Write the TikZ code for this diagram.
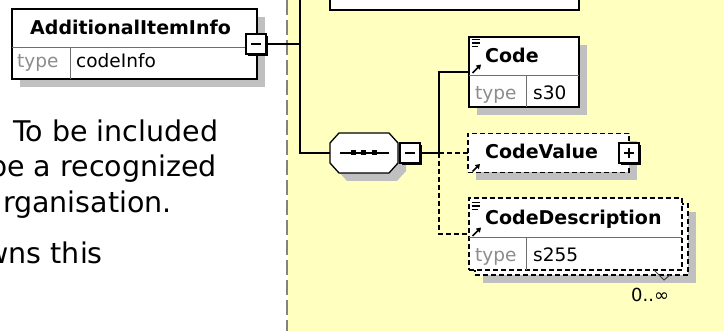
\documentclass[tikz,border=0pt]{standalone}
\usepackage{fontspec}
\setmainfont{DejaVu Sans}
\usetikzlibrary{arrows.meta,calc}
\definecolor{ylw}{RGB}{255,255,192}
\definecolor{shd}{RGB}{192,192,192}
\definecolor{typegray}{RGB}{140,140,140}
\definecolor{sepgray}{RGB}{130,130,130}
\definecolor{divgray}{RGB}{110,110,110}
\tikzset{
  box/.style={draw=black, line width=1.3pt, fill=white, inner sep=0pt, outer sep=0pt},
  optbox/.style={box, dash pattern=on 5pt off 3pt},
  shadowfill/.style={fill=shd},
  divider/.style={draw=divgray, line width=1pt},
  conn/.style={draw=black, line width=1.3pt},
  optconn/.style={conn, dash pattern=on 5pt off 3pt},
  lbl/.style={font=\fontsize{19}{22}\selectfont\bfseries, inner sep=0pt, anchor=base west},
  typ/.style={font=\fontsize{18.5}{22}\selectfont, text=typegray, inner sep=0pt, anchor=base west},
  val/.style={font=\fontsize{18.5}{22}\selectfont, text=black, inner sep=0pt, anchor=base west},
  prose/.style={font=\fontsize{28.5}{34}\selectfont, inner sep=0pt},
  icoline/.style={line width=1.1pt},
  icoarrow/.style={line width=1.6pt, -{Triangle[length=4.5pt,width=5.5pt]}},
  pmbox/.style={box, minimum width=20pt, minimum height=20pt}
}
\begin{document}
\begin{tikzpicture}[x=1pt,y=-1pt]
\useasboundingbox (0,0) rectangle (724,331);
\clip (0,0) rectangle (724,331);
\fill[white] (0,0) rectangle (724,331);
\fill[ylw] (288,0) rectangle (724,331);
\draw[sepgray, line width=1.3pt, dash pattern=on 15pt off 5pt] (287,0) -- (287,331);

% ---- prose text (left) ----
\node[prose, anchor=base west] (p1) at (13,141.7) {To be included};
\node[prose, anchor=base east] (p2) at (217,176.7) {be a recognized};
\node[prose, anchor=base east] (p3) at (172,213) {rganisation.};
\node[prose, anchor=base east] (p4) at (103,264) {wns this};

% ---- AdditionalItemInfo ----
\fill[shadowfill] (20,17) rectangle (265,87);
\node[box, minimum width=245pt, minimum height=70pt] (aii) at (134.5,44) {};
\draw[divider] (12,48) -- (257,48);
\draw[divider] (70,48) -- (70,79);
\node[lbl] (aiit) at (30,35) {AdditionalItemInfo};
\node[typ] (aiity) at (17,68) {type};
\node[val] (aiiv) at (76,68) {codeInfo};
\fill[black] (248,36) rectangle (268,56);
\node[pmbox] (aiim) at (256,44) {};
\draw[line width=1.2pt] (251,44) -- (261,44);

% ---- top box ----
\node[box, minimum width=249pt, minimum height=20pt, anchor=south west] (topbox) at (330,10) {};

% ---- sequence compositor ----
\fill[shadowfill] (338,151) -- (347,141) -- (397,141) -- (406,151) -- (406,171) -- (397,181) -- (347,181) -- (338,171) -- cycle;
\node[inner sep=0pt, minimum width=68pt, minimum height=40pt] (seq) at (364,153) {};
\draw[box] (330,143) -- (339,133) -- (389,133) -- (398,143) -- (398,163) -- (389,173) -- (339,173) -- (330,163) -- cycle;
\draw[line width=1.2pt] (340,153) -- (389,153);
\fill (350.5,150.5) rectangle (355.5,155.5);
\fill (360.5,150.5) rectangle (365.5,155.5);
\fill (371.5,150.5) rectangle (376.5,155.5);
\fill[black] (402,145) rectangle (422,165);
\node[pmbox] (seqm) at (410,153) {};
\draw[line width=1.2pt] (405,153) -- (415,153);

% ---- Code ----
\fill[shadowfill] (477,45) rectangle (587,115);
\node[box, minimum width=110pt, minimum height=70pt] (code) at (524,72) {};
\draw[divider] (469,76) -- (579,76);
\draw[divider] (526,76) -- (526,107);
\draw[icoline] (471.5,39.5) -- (480,39.5) (471.5,43) -- (480,43) (471.5,46.5) -- (478,46.5);
\draw[icoarrow] (472.5,73) -- (481,64.5);
\node[lbl] (codet) at (485,63) {Code};
\node[typ] (codety) at (475,100) {type};
\node[val] (codev) at (533,100) {s30};

% ---- CodeValue ----
\fill[shadowfill] (476,141.5) rectangle (637,180.5);
\node[optbox, minimum width=161pt, minimum height=39pt] (cv) at (548.5,153) {};
\draw[icoarrow] (472.5,171.5) -- (480,164);
\node[lbl] (cvt) at (485,158.5) {CodeValue};
\fill[black] (621,145) rectangle (641,165);
\node[pmbox] (cvp) at (629,153) {};
\draw[line width=1.2pt] (624,153) -- (634,153) (629,148) -- (629,158);

% ---- CodeDescription ----
\fill[shadowfill] (483,212) rectangle (696,283);
\node[optbox, minimum width=213pt, minimum height=71pt] (cdback) at (581.5,239.5) {};
\node[optbox, minimum width=213pt, minimum height=72pt] (cd) at (575.5,234) {};
\draw[divider] (469,238) -- (682,238);
\draw[divider] (526,238) -- (526,270);
\draw[icoline] (471.5,202.5) -- (480,202.5) (471.5,206) -- (480,206) (471.5,209.5) -- (478,209.5);
\draw[icoarrow] (472.5,236) -- (481,227.5);
\node[lbl] (cdt) at (485,225) {CodeDescription};
\node[typ] (cdty) at (475,262) {type};
\node[val] (cdv) at (533,262) {s255};
\draw[line width=1pt, black!75] (654,270) -- (664,280) -- (670,275);
\node[font=\fontsize{18}{20}\selectfont, inner sep=0pt, anchor=base west] (occ) at (631,302) {0..∞};

% ---- connectors ----
\coordinate (ttop) at (300,-2);
\coordinate (j2) at (439,153);
\draw[conn] (aiim.east) -- (aiim.east -| ttop);
\draw[conn] (ttop) |- (seq.west);
\draw[conn] (seqm.east) -- (j2) |- (code.west);
\draw[optconn] (j2) -- (cv.west);
\draw[optconn] (j2) |- (cd.west);
\end{tikzpicture}
\end{document}
